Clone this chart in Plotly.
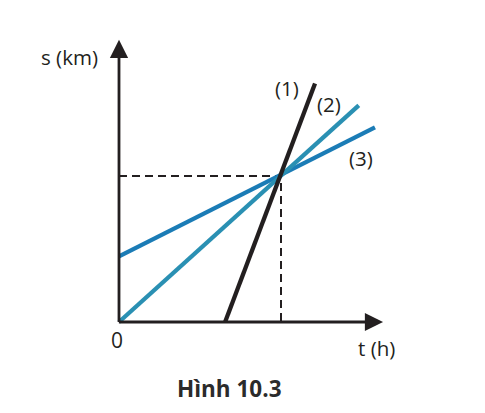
import plotly.graph_objects as go

# Data (t in h, s in km)
line1_t = [1.31, 2.42]
line1_s = [0, 98]
line2_t = [0, 2.96]
line2_s = [0, 89]
line3_t = [0, 3.16]
line3_s = [27, 80]
meet_t = 2.0
meet_s = 60.0
line_labels = ["(1)", "(2)", "(3)"]
label_t = [2.08, 2.59, 2.99]
label_s = [96, 89.5, 67.5]

BLACK = "#231f20"
TEAL = "#2a90b3"
BLUE = "#1b7cb6"
FONT = "Open Sans"

fig = go.Figure()

# dashed guides
fig.add_trace(go.Scatter(x=[0, meet_t, meet_t], y=[meet_s, meet_s, 0], mode="lines",
                         line=dict(color=BLACK, width=2, dash="8px,5px"),
                         hoverinfo="skip", showlegend=False))

fig.add_trace(go.Scatter(x=line3_t, y=line3_s, mode="lines",
                         line=dict(color=BLUE, width=4.3), showlegend=False))
fig.add_trace(go.Scatter(x=line2_t, y=line2_s, mode="lines",
                         line=dict(color=TEAL, width=4.3), showlegend=False))
fig.add_trace(go.Scatter(x=line1_t, y=line1_s, mode="lines",
                         line=dict(color=BLACK, width=4.3), showlegend=False))

# axes with arrows
fig.add_annotation(x=3.26, y=0, ax=-0.02, ay=0, xref="x", yref="y", axref="x", ayref="y",
                   showarrow=True, arrowhead=2, arrowsize=1.3, arrowwidth=2.8,
                   arrowcolor=BLACK, text="")
fig.add_annotation(x=0, y=116, ax=0, ay=-0.6, xref="x", yref="y", axref="x", ayref="y",
                   showarrow=True, arrowhead=2, arrowsize=1.3, arrowwidth=2.8,
                   arrowcolor=BLACK, text="")

for txt, tt, ss in zip(line_labels, label_t, label_s):
    fig.add_annotation(x=tt, y=ss, text=txt, showarrow=False,
                       font=dict(family=FONT, size=20.5, color=BLACK))

fig.add_annotation(x=-0.605, y=109, text="s (km)", showarrow=False,
                   font=dict(family=FONT, size=20.5, color=BLACK))
fig.add_annotation(x=3.185, y=-10.5, text="t (h)", showarrow=False,
                   font=dict(family=FONT, size=20.5, color=BLACK))
fig.add_annotation(x=-0.02, y=-7.6, text="0", showarrow=False,
                   font=dict(family=FONT, size=21, color=BLACK))
fig.add_annotation(x=1.364, y=-27.3, text="<b>Hình 10.3</b>", showarrow=False,
                   font=dict(family=FONT, size=22.5, color="#2b2b2b"))

# page body has an 8px margin, so the figure is sized and placed to compensate
W, H = 477, 405
ox, oy = 111, 314
px_t = 1 / 81.0
px_s = 60 / 146.0
fig.update_layout(
    width=W, height=H,
    margin=dict(l=0, r=0, t=0, b=0),
    paper_bgcolor="white", plot_bgcolor="white",
    xaxis=dict(range=[-ox * px_t, (W - ox) * px_t], visible=False, fixedrange=True),
    yaxis=dict(range=[-(H - oy) * px_s, oy * px_s], visible=False, fixedrange=True),
)
fig.write_html("out.html")
